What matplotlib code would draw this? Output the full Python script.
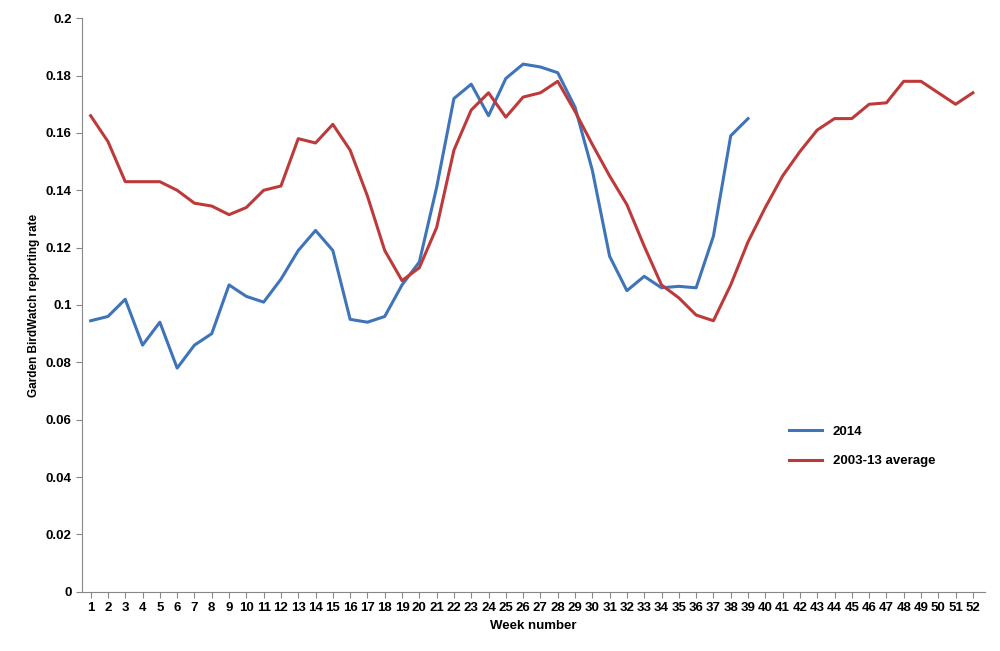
import matplotlib
matplotlib.use("Agg")
import matplotlib.pyplot as plt

weeks = list(range(1, 53))
rate_2014 = [0.0945, 0.096, 0.102, 0.086, 0.094, 0.078, 0.086, 0.090, 0.107, 0.103, 0.101, 0.109,
             0.119, 0.126, 0.119, 0.095, 0.094, 0.096, 0.107, 0.115, 0.141, 0.172, 0.177, 0.166,
             0.179, 0.184, 0.183, 0.181, 0.169, 0.147, 0.117, 0.105, 0.110, 0.106, 0.1065, 0.106,
             0.124, 0.159, 0.165]
rate_avg = [0.166, 0.157, 0.143, 0.143, 0.143, 0.140, 0.1355, 0.1345, 0.1315, 0.134, 0.140, 0.1415,
            0.158, 0.1565, 0.163, 0.154, 0.138, 0.119, 0.1085, 0.113, 0.127, 0.154, 0.168, 0.174,
            0.1655, 0.1725, 0.174, 0.178, 0.1675, 0.156, 0.145, 0.135, 0.1205, 0.107, 0.1025, 0.0965,
            0.0945, 0.107, 0.122, 0.134, 0.145, 0.1535, 0.161, 0.165, 0.165, 0.170, 0.1705, 0.178,
            0.178, 0.174, 0.170, 0.174]

plt.rcParams['font.family'] = ['Liberation Sans', 'DejaVu Sans']
fig = plt.figure(figsize=(10, 6.51), dpi=100)
ax = fig.add_axes([0.082, 0.091, 0.903, 0.881])
ax.plot(weeks[:len(rate_2014)], rate_2014, color='#3F74B8', lw=2.2, label='2014')
ax.plot(weeks, rate_avg, color='#BE3A3A', lw=2.2, label='2003-13 average')
ax.set_xlim(0.5, 52.7)
ax.set_ylim(0, 0.2)
ax.set_xticks(weeks)
ax.set_xticklabels([str(w) for w in weeks], fontsize=9.5, fontweight='bold')
yt = [0, 0.02, 0.04, 0.06, 0.08, 0.1, 0.12, 0.14, 0.16, 0.18, 0.2]
ax.set_yticks(yt)
ax.set_yticklabels(['0', '0.02', '0.04', '0.06', '0.08', '0.1', '0.12', '0.14', '0.16', '0.18', '0.2'],
                   fontsize=9.5, fontweight='bold')
for s in ['top', 'right']:
    ax.spines[s].set_visible(False)
ax.spines['left'].set_color('#888888')
ax.spines['bottom'].set_color('#888888')
ax.tick_params(direction='out', length=4, color='#888888')
ax.set_xlabel('Week number', fontsize=9.5, fontweight='bold')
ax.set_ylabel('Garden BirdWatch reporting rate', fontsize=8.5, fontweight='bold')
leg = ax.legend(loc='upper left', bbox_to_anchor=(0.77, 0.31), frameon=False,
                prop={'size': 9.5, 'weight': 'bold'}, labelspacing=1.3, handlelength=2.5)
fig.savefig('out.png', dpi=100)
